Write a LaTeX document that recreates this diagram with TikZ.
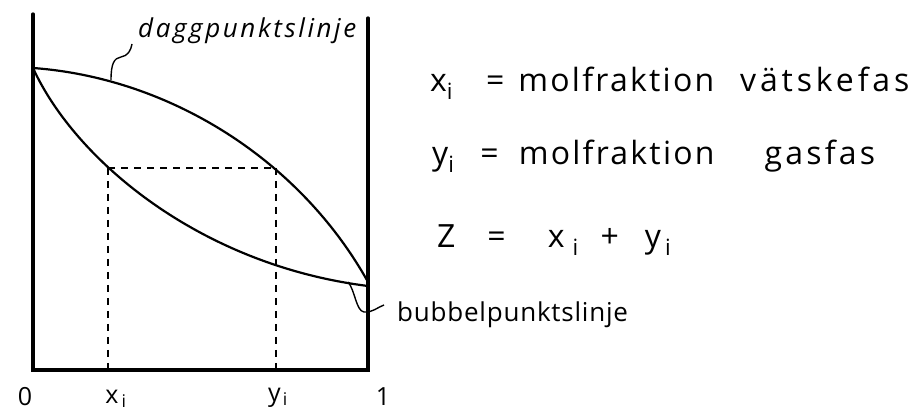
\documentclass[tikz,border=0pt]{standalone}
\usepackage{fontspec}
\setmainfont{Open Sans}
\newfontfamily\handfont[LetterSpace=6]{Open Sans}
\newfontfamily\daggfont[LetterSpace=10]{Open Sans}
\newfontfamily\notefont[LetterSpace=7]{Open Sans}
\newfontfamily\notewide[LetterSpace=12]{Open Sans}
\newfontfamily\tighthand[LetterSpace=3]{Open Sans}
\usetikzlibrary{positioning, calc}

\begin{document}
\begin{tikzpicture}[
    x=1pt, y=-1pt,
    axisline/.style={line width=3.2pt, line cap=round},
    curve/.style={line width=2.2pt},
    guide/.style={line width=1.5pt, dash pattern=on 7pt off 6pt},
    leader/.style={line width=1.4pt},
    tick/.style={font=\handfont\fontsize{25}{25}\selectfont, inner sep=0pt},
    note/.style={font=\notefont\fontsize{32}{32}\selectfont, inner sep=0pt, anchor=base west},
    curvelabel/.style={inner sep=0pt, anchor=base west}
]
\useasboundingbox (0,0) rectangle (918,419);

% ==================== Axes ====================
\coordinate (Origin) at (33,370);
\coordinate (OneEnd) at (368,370);
\coordinate (LeftTop) at (33,14);
\coordinate (RightTop) at (368,18);
\draw[axisline] (LeftTop) -- (Origin) -- (OneEnd) -- (RightTop);

% ==================== Dew and bubble lines ====================
\coordinate (Pure) at (33,68);
\coordinate (DewEnd) at (368,282);
\coordinate (BubEnd) at (368,286);
\draw[curve] (Pure) .. controls (170,78) and (300,160) .. (DewEnd);
\draw[curve] (Pure) .. controls (75,160) and (200,265) .. (BubEnd);

% ==================== Tie line x_i -- y_i ====================
\coordinate (Xcut) at (108,168);
\coordinate (Ycut) at (276,168);
\coordinate (Xfoot) at (108,370);
\coordinate (Yfoot) at (276,370);
\draw[guide] (Xcut) -- (Ycut);
\draw[guide] (Xcut) -- (Xfoot);
\draw[guide] (Ycut) -- (Yfoot);

% ==================== Axis labels ====================
\node[tick] (lbl0) at (25,397) {0};
\node[tick] (lblx) at (116,399) {x\hspace{3pt}\textsubscript{i}};
\node[tick] (lbly) at (278,398) {y\hspace{2pt}\textsubscript{i}};
\node[tick] (lbl1) at (383,397) {1};

% ==================== Curve names ====================
\node[curvelabel, font=\daggfont\itshape\fontsize{26}{26}\selectfont] (daggLbl) at (138,38) {daggpunktslinje};
\coordinate (daggFoot) at (111,80);
\draw[leader] (daggFoot) .. controls (111,64) and (114,58) .. (121,57)
    .. controls (128,56) and (131,50) .. (132,44);

\node[curvelabel, font=\tighthand\fontsize{26}{26}\selectfont] (bubbLbl) at (397,322) {bubbelpunktslinje};
\coordinate (bubbFoot) at (348,282);
\draw[leader] (bubbFoot) .. controls (355,290) and (356,311) .. (364,312)
    .. controls (372,313) and (378,307) .. (384,305);

% ==================== Definitions ====================
\node[note] (defX) at (430,92) {x\textsubscript{i}\hspace{33pt}=\hspace{14pt}molfraktion\hspace{26pt}{\notewide vätskefas}};
\node[note] (defY) at (432,165) {y\textsubscript{i}\hspace{26pt}=\hspace{20pt}molfraktion\hspace{50pt}{\daggfont gasfas}};
\node[note] (defZ) at (437,248) {Z\hspace{32pt}=\hspace{42pt}x\hspace{8pt}\textsubscript{i}\hspace{22pt}+\hspace{26pt}y\hspace{4pt}\textsubscript{i}};

\end{tikzpicture}
\end{document}
